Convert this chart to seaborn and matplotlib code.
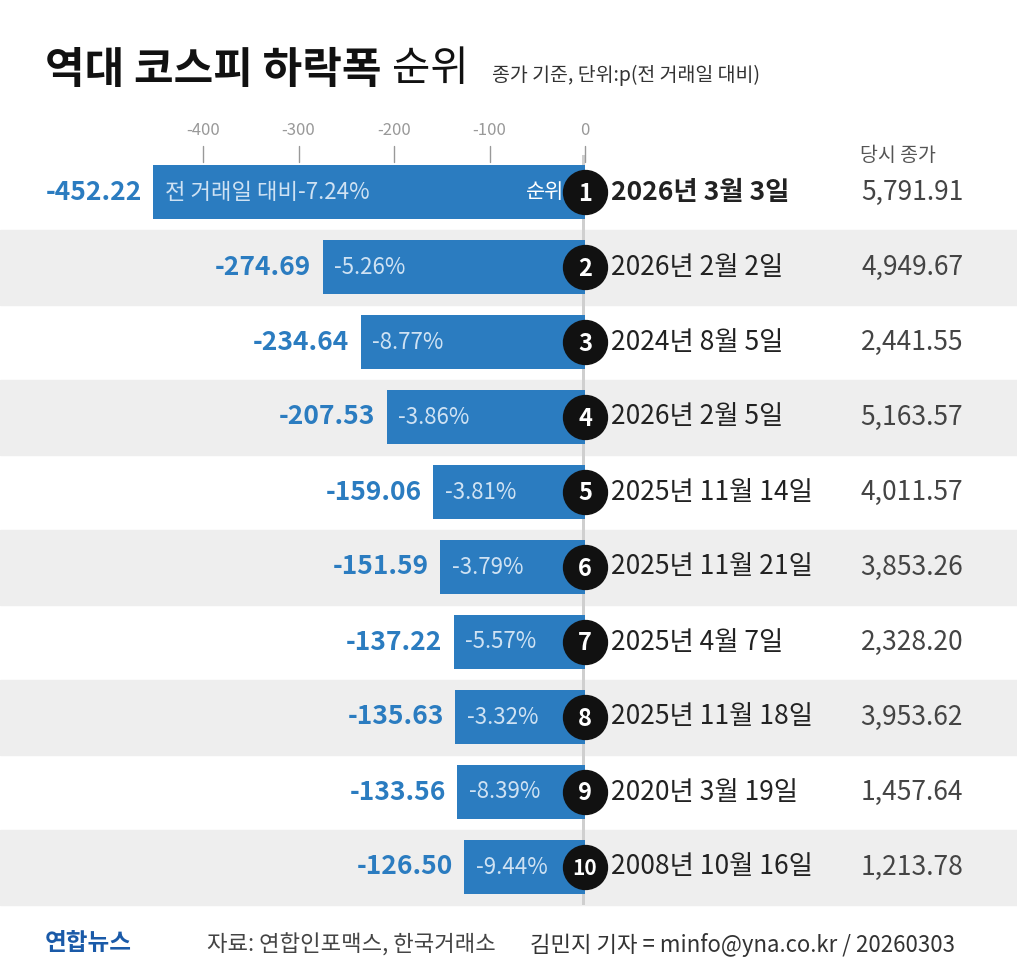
import matplotlib.pyplot as plt
import seaborn as sns
import pandas as pd

ranks = list(range(1, 11))
drops = [-452.22, -274.69, -234.64, -207.53, -159.06, -151.59, -137.22, -135.63, -133.56, -126.50]
pcts = ['-7.24%', '-5.26%', '-8.77%', '-3.86%', '-3.81%', '-3.79%', '-5.57%', '-3.32%', '-8.39%', '-9.44%']
dates = ['2026년 3월 3일', '2026년 2월 2일', '2024년 8월 5일', '2026년 2월 5일', '2025년 11월 14일',
         '2025년 11월 21일', '2025년 4월 7일', '2025년 11월 18일', '2020년 3월 19일', '2008년 10월 16일']
closes = ['5,791.91', '4,949.67', '2,441.55', '5,163.57', '4,011.57',
          '3,853.26', '2,328.20', '3,953.62', '1,457.64', '1,213.78']
ticks = [-400, -300, -200, -100, 0]

sns.set_theme(style='white')
plt.rcParams['font.family'] = ['Noto Sans CJK KR', 'DejaVu Sans']

W, H = 1017, 977
fig = plt.figure(figsize=(W / 100, H / 100), dpi=100)
ax = fig.add_axes([0, 0, 1, 1])

# pixel mapping: x px = 585 + 0.955*value ; row i center at 192 + 75*i
sx = 0.955
BLUE = '#2b7cc0'
for i in ranks[1::2]:
    ax.axhspan(i - 1 - 0.5, i - 1 + 0.5, color='#eeeeee', zorder=0)
ax.fill_between([-3, 0], -0.5, 9.5, color='#cfcfcf', zorder=0.5, lw=0)

df = pd.DataFrame({'rank': [str(r) for r in ranks], 'drop': drops})
sns.barplot(data=df, x='drop', y='rank', orient='h', color=BLUE, width=0.72,
            saturation=1, ax=ax, zorder=2, linewidth=0, edgecolor=BLUE)
ax.set_ylim((H - 192) / 75, -192 / 75)
ax.set_xlim((0 - 585) / sx, (W - 585) / sx)
ax.axis('off')

for i in range(10):
    d = drops[i]
    ax.text(d - 12, i, f'{d:.2f}', ha='right', va='center', color=BLUE,
            fontsize=19, fontweight='bold', zorder=3)
    label = ('전 거래일 대비' + pcts[i]) if i == 0 else pcts[i]
    ax.text(d + 12, i, label, ha='left', va='center', color='#cfe2f3', fontsize=16, zorder=3)
    ax.scatter([0], [i], s=1000, color='#111111', zorder=4)
    ax.text(0, i + 0.02, str(ranks[i]), ha='center', va='center', color='white',
            fontsize=17 if ranks[i] < 10 else 15, fontweight='bold', zorder=5)
    ax.text(27, i, dates[i], ha='left', va='center', color='#222222', fontsize=19,
            fontweight='bold' if i == 0 else 'normal', zorder=3)
    ax.text(396, i, closes[i], ha='right', va='center', color='#444444', fontsize=19, zorder=3)
ax.text(-22, 0, '순위', ha='right', va='center', color='white', fontsize=15, zorder=3)
ax.text((898 - 585) / sx, (155 - 192) / 75, '당시 종가', ha='center', va='center',
        color='#555555', fontsize=14)

for t in ticks:
    ax.text(t, (130 - 192) / 75, str(t), ha='center', va='center', color='#999999', fontsize=12)
    ax.plot([t, t], [(146 - 192) / 75, (162 - 192) / 75], color='#999999', lw=1)

fig.text(45 / W, 1 - 70 / H, '역대 코스피 하락폭', fontsize=31, fontweight='bold',
         color='#111111', va='center')
fig.text(392 / W, 1 - 70 / H, '순위', fontsize=30, color='#111111', va='center')
fig.text(492 / W, 1 - 75 / H, '종가 기준, 단위:p(전 거래일 대비)', fontsize=14,
         color='#333333', va='center')

fig.text(45 / W, 1 - 943 / H, '연합뉴스', fontsize=17, fontweight='bold', color='#1a5aa8', va='center')
fig.text(207 / W, 1 - 945 / H, '자료: 연합인포맥스, 한국거래소', fontsize=16, color='#444444', va='center')
fig.text(530 / W, 1 - 945 / H, '김민지 기자 = minfo@yna.co.kr / 20260303', fontsize=16,
         color='#333333', va='center')

fig.savefig('out.png', dpi=100, facecolor='white')
